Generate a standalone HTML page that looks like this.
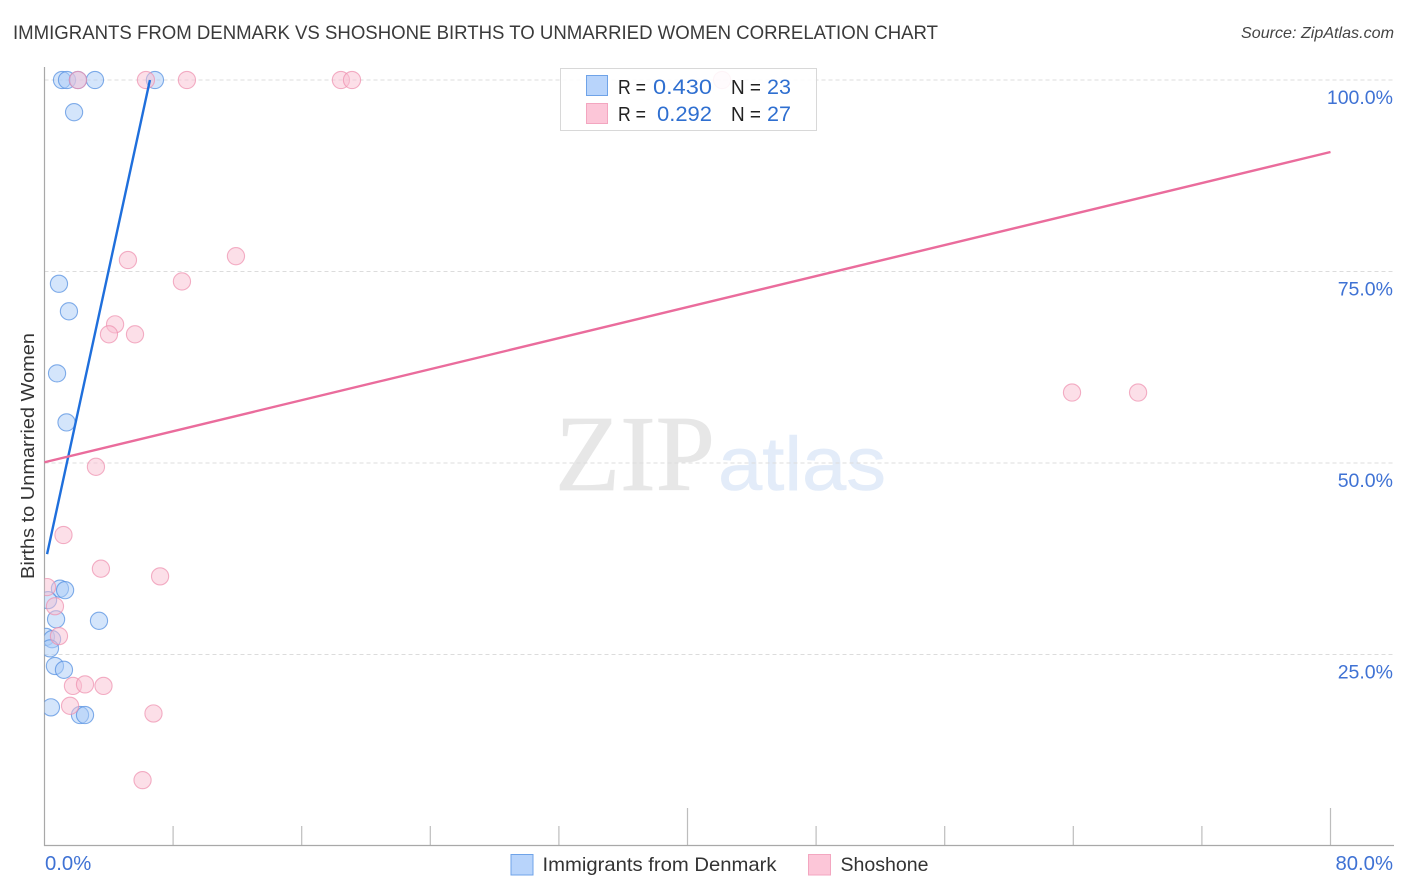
<!DOCTYPE html>
<html lang="en">
<head>
<meta charset="utf-8">
<title>Immigrants from Denmark vs Shoshone Births to Unmarried Women Correlation Chart</title>
<style>
html,body{margin:0;padding:0;background:#fff;}
svg{display:block;font-family:"Liberation Sans",sans-serif;}
</style>
</head>
<body>
<svg id="chart" xmlns="http://www.w3.org/2000/svg" width="1406" height="892" viewBox="0 0 1406 892">
  <defs><clipPath id="plot-clip"><rect x="44.5" y="60" width="1350" height="786"/></clipPath></defs>
  <rect x="0" y="0" width="1406" height="892" fill="#ffffff"/>
  <text x="13" y="39" font-size="19.6" fill="#3a3a3a" textLength="925" lengthAdjust="spacingAndGlyphs">IMMIGRANTS FROM DENMARK VS SHOSHONE BIRTHS TO UNMARRIED WOMEN CORRELATION CHART</text>
  <text x="1241" y="38" font-size="15.8" font-style="italic" fill="#444444" textLength="153" lengthAdjust="spacingAndGlyphs">Source: ZipAtlas.com</text>
  <g>
    <text x="555" y="490" font-family="'Liberation Serif',serif" font-size="108" fill="#e7e7e7" stroke="#e7e7e7" stroke-width="0.8" textLength="160" lengthAdjust="spacingAndGlyphs">ZIP</text>
    <text x="718" y="490" font-size="76" fill="#e3ecf9" stroke="#e3ecf9" stroke-width="0.6" textLength="168" lengthAdjust="spacingAndGlyphs">atlas</text>
  </g>
  <g id="grid"></g>
  <g id="ticks"></g>
  <line x1="44.5" y1="67" x2="44.5" y2="846" stroke="#a8a8a8" stroke-width="1.2"/>
  <line x1="44" y1="845.5" x2="1394" y2="845.5" stroke="#a8a8a8" stroke-width="1.2"/>
  <g id="points" clip-path="url(#plot-clip)"></g>
  <g id="trends"></g>
  <g id="labels"></g>
  <text transform="translate(34,456) rotate(-90)" font-size="18.5" fill="#333333" text-anchor="middle" textLength="246" lengthAdjust="spacingAndGlyphs">Births to Unmarried Women</text>

  <g>
    <rect x="560.5" y="68.5" width="256" height="62" fill="#ffffff" fill-opacity="0.88" stroke="#d8d8d8" stroke-width="1"/>
    <rect x="586.5" y="75.5" width="21" height="20" fill="#b8d4fb" stroke="#6fa3e8"/>
    <rect x="586.5" y="103.5" width="21" height="20" fill="#fcc6d8" stroke="#f3a6c0"/>
    <g font-size="20" fill="#222222">
      <text x="618" y="94" textLength="28" lengthAdjust="spacingAndGlyphs">R =</text>
      <text x="731" y="94" textLength="30" lengthAdjust="spacingAndGlyphs">N =</text>
      <text x="618" y="121" textLength="28" lengthAdjust="spacingAndGlyphs">R =</text>
      <text x="731" y="121" textLength="30" lengthAdjust="spacingAndGlyphs">N =</text>
    </g>
    <g font-size="21.5" fill="#2f6fd0">
      <text x="653" y="94" textLength="59" lengthAdjust="spacingAndGlyphs">0.430</text>
      <text x="767" y="94" textLength="24" lengthAdjust="spacingAndGlyphs">23</text>
      <text x="657" y="121" textLength="55" lengthAdjust="spacingAndGlyphs">0.292</text>
      <text x="767" y="121" textLength="24" lengthAdjust="spacingAndGlyphs">27</text>
    </g>
  </g>

  <g>
    <rect x="511" y="854.5" width="22" height="20.5" fill="#b8d4fb" stroke="#6fa3e8"/>
    <text x="542.5" y="871" font-size="19.5" fill="#333333" textLength="234" lengthAdjust="spacingAndGlyphs">Immigrants from Denmark</text>
    <rect x="808.5" y="854.5" width="22" height="20.5" fill="#fcc6d8" stroke="#f3a6c0"/>
    <text x="840.5" y="871" font-size="19.5" fill="#333333" textLength="88" lengthAdjust="spacingAndGlyphs">Shoshone</text>
  </g>
</svg>
<script>
const denmarkX = [1.09,1.40,2.08,3.14,6.87,1.84,0.90,1.52,0.78,1.37,0.96,1.28,0.22,0.72,3.39,0.09,0.47,0.34,0.65,1.21,0.40,2.21,2.52];
const denmarkY = [100,100,100,100,100,95.8,73.4,69.8,61.7,55.3,33.6,33.4,32.1,29.6,29.4,27.3,27.0,25.8,23.5,23.0,18.1,17.1,17.1];
const shoshoneX = [2.08,6.31,8.86,18.44,19.13,42.15,5.19,11.91,8.55,4.39,4.01,5.63,63.92,68.03,3.20,1.18,3.51,7.19,0.16,0.65,0.90,1.77,2.52,3.67,1.59,6.78,6.10];
const shoshoneY = [100,100,100,100,100,100,76.5,77.0,73.7,68.1,66.8,66.8,59.2,59.2,49.5,40.6,36.2,35.2,33.8,31.3,27.4,20.9,21.1,20.9,18.3,17.3,8.6];
const denmarkTrendX = [0.16,6.56];
const denmarkTrendY = [38.1,100];
const shoshoneTrendX = [0,80];
const shoshoneTrendY = [50.1,90.6];
const yTicks = [25,50,75,100];
const yTickLabels = ["25.0%","50.0%","75.0%","100.0%"];
const xTicks = [8,16,24,32,40,48,56,64,72,80];
const xMajorTicks = [40,80];
const xEndLabels = ["0.0%","80.0%"];

const NS = "http://www.w3.org/2000/svg";
const xScale = v => 44.5 + v * 16.075;
const yScale = v => 846 - v * 7.66;
function make(tag, attrs, parent) {
  const el = document.createElementNS(NS, tag);
  for (const k in attrs) el.setAttribute(k, attrs[k]);
  parent.appendChild(el);
  return el;
}
const grid = document.getElementById("grid");
const ticks = document.getElementById("ticks");
const points = document.getElementById("points");
const trends = document.getElementById("trends");
const labels = document.getElementById("labels");

yTicks.forEach((v, i) => {
  const line = make("line", {x1: 44.5, x2: 1394, y1: yScale(v), y2: yScale(v), stroke: "#dcdcdc", "stroke-width": 1, "stroke-dasharray": "4 3"}, grid);
  
  
  const t = make("text", {x: 1393, y: yScale(v) + 24, "font-size": 19.5, fill: "#3f72d4", "text-anchor": "end"}, labels);
  t.textContent = yTickLabels[i];
  
  
});
xTicks.forEach(v => {
  const top = xMajorTicks.includes(v) ? 808 : 826;
  const line = make("line", {x1: xScale(v), x2: xScale(v), y1: top, y2: 845.5, stroke: "#bdbdbd", "stroke-width": 1.2}, ticks);
  
  
});
const xLeft = make("text", {x: 45, y: 870, "font-size": 20.3, fill: "#3f72d4"}, labels);
xLeft.textContent = xEndLabels[0];


const xRight = make("text", {x: 1393, y: 870, "font-size": 20.3, fill: "#3f72d4", "text-anchor": "end"}, labels);
xRight.textContent = xEndLabels[1];



denmarkX.forEach((v, i) => {
  const c = make("circle", {cx: xScale(v), cy: yScale(denmarkY[i]), r: 8.6, fill: "#a9cbf8", "fill-opacity": 0.5, stroke: "#4f8ce0", "stroke-opacity": 0.7, "stroke-width": 1.1}, points);
  
  
});
shoshoneX.forEach((v, i) => {
  const c = make("circle", {cx: xScale(v), cy: yScale(shoshoneY[i]), r: 8.6, fill: "#f9bfd2", "fill-opacity": 0.5, stroke: "#ee8fae", "stroke-opacity": 0.7, "stroke-width": 1.1}, points);
  
  
});
const trendBlue = make("line", {x1: xScale(denmarkTrendX[0]), y1: yScale(denmarkTrendY[0]), x2: xScale(denmarkTrendX[1]), y2: yScale(denmarkTrendY[1]), stroke: "#1f6fdc", "stroke-width": 2.4}, trends);


const trendPink = make("line", {x1: xScale(shoshoneTrendX[0]), y1: yScale(shoshoneTrendY[0]), x2: xScale(shoshoneTrendX[1]), y2: yScale(shoshoneTrendY[1]), stroke: "#ea6c9c", "stroke-width": 2.4}, trends);


</script>
</body>
</html>
